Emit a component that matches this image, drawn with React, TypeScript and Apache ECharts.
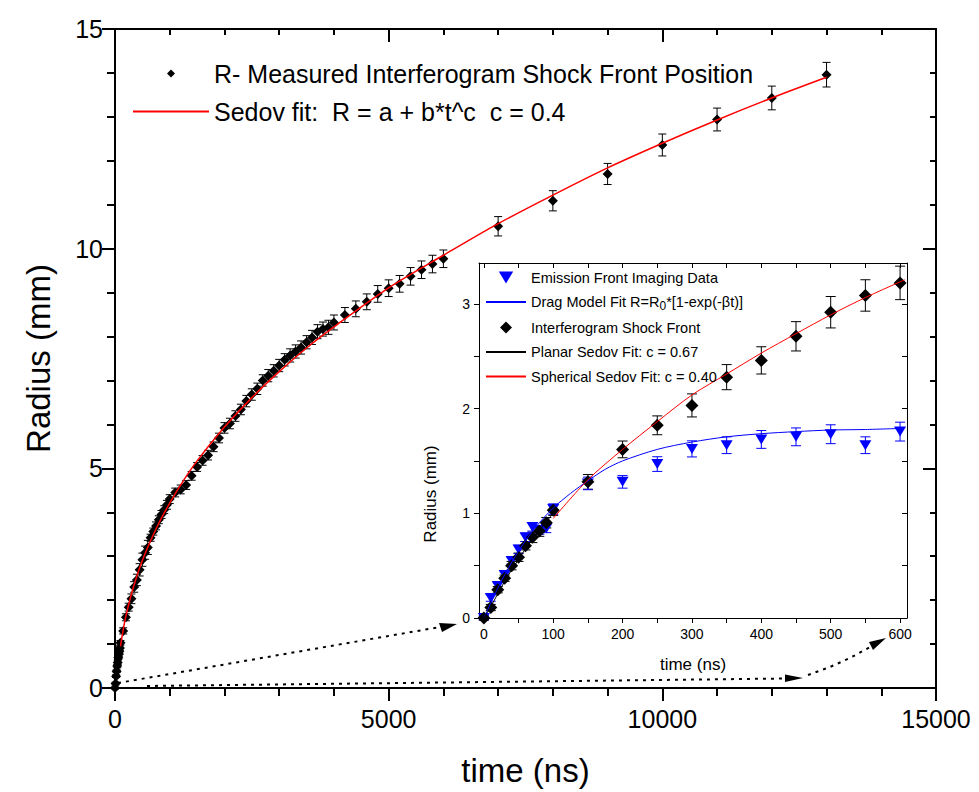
import React, { useEffect, useRef } from "react";
import * as echarts from "echarts";

const FONT = '"Liberation Sans", Arial, Helvetica, sans-serif';

// Interferogram shock front (ns, mm) with error
const shockT = [
  0, 10, 20, 30, 40, 50, 60, 70, 80, 90, 100,
  150, 200, 250, 300, 350, 400, 450, 500, 550, 600,
  650, 700, 750, 800, 850, 900, 950, 1000,
  1100, 1200, 1300, 1400, 1500, 1600, 1700, 1800, 1900, 2000,
  2100, 2200, 2300, 2400, 2500, 2600, 2700, 2800, 2900, 3000,
  3100, 3200, 3300, 3400, 3500, 3600, 3700, 3800, 3900, 4000,
  4200, 4400, 4600, 4800, 5000, 5200, 5400, 5600, 5800, 6000,
  7000, 8000, 9000, 10000, 11000, 12000, 13000,
];
const shockR = [
  0, 0.10, 0.27, 0.38, 0.50, 0.58, 0.69, 0.77, 0.83, 0.91, 1.03,
  1.30, 1.61, 1.84, 2.03, 2.30, 2.46, 2.69, 2.92, 3.08, 3.20,
  3.42, 3.56, 3.69, 3.83, 3.95, 4.06, 4.17, 4.30,
  4.45, 4.52, 4.62, 4.83, 5.03, 5.18, 5.30, 5.49, 5.69, 5.92,
  6.02, 6.19, 6.34, 6.53, 6.68, 6.81, 7.00, 7.11, 7.22, 7.34,
  7.47, 7.57, 7.66, 7.75, 7.87, 7.98, 8.11, 8.17, 8.21, 8.32,
  8.49, 8.63, 8.79, 8.97, 9.10, 9.20, 9.37, 9.52, 9.65, 9.77,
  10.51, 11.09, 11.70, 12.36, 12.94, 13.43, 13.96,
];
const shockErr = [
  0.02, 0.03, 0.03, 0.03, 0.04, 0.04, 0.04, 0.05, 0.05, 0.05, 0.05,
  0.07, 0.08, 0.09, 0.11, 0.12, 0.13, 0.14, 0.15, 0.15, 0.16,
  0.08, 0.08, 0.09, 0.09, 0.09, 0.09, 0.1, 0.1,
  0.1, 0.1, 0.1, 0.1, 0.1, 0.11, 0.11, 0.11, 0.11, 0.12,
  0.12, 0.12, 0.12, 0.13, 0.13, 0.13, 0.13, 0.14, 0.14, 0.14,
  0.14, 0.15, 0.15, 0.15, 0.15, 0.16, 0.16, 0.16, 0.16, 0.17,
  0.17, 0.18, 0.18, 0.19, 0.19, 0.19, 0.2, 0.2, 0.2, 0.2,
  0.22, 0.23, 0.24, 0.25, 0.26, 0.27, 0.28,
];
const INSET_COUNT = 21; // shock points with t <= 600 ns shown in inset

// Spherical Sedov fit (c = 0.4), main plot
const fitT = [100, 150, 200, 300, 400, 500, 600, 800, 1000, 1250, 1500, 2000, 2500, 3000, 3500, 4000, 5000, 6000, 7000, 8000, 9000, 10000, 11000, 12000, 13000];
const fitR = [0.95, 1.33, 1.64, 2.14, 2.55, 2.90, 3.21, 3.75, 4.21, 4.72, 5.17, 5.94, 6.61, 7.20, 7.74, 8.22, 9.11, 9.85, 10.57, 11.22, 11.84, 12.40, 12.93, 13.43, 13.90];

// Emission front imaging data (inset)
const emisT = [0, 10, 20, 30, 40, 50, 60, 70, 80, 90, 100, 150, 200, 250, 300, 350, 400, 450, 500, 550, 600];
const emisR = [0, 0.19, 0.305, 0.41, 0.545, 0.655, 0.77, 0.87, 0.84, 0.855, 1.04, 1.285, 1.30, 1.47, 1.615, 1.65, 1.705, 1.73, 1.755, 1.65, 1.78];
const emisErr = [0.02, 0.03, 0.03, 0.03, 0.03, 0.04, 0.04, 0.04, 0.04, 0.04, 0.05, 0.06, 0.06, 0.07, 0.077, 0.08, 0.085, 0.085, 0.09, 0.08, 0.09];

// Drag model fit (inset)
const dragT = [0, 25, 50, 75, 100, 125, 150, 175, 200, 250, 300, 350, 400, 450, 500, 550, 600];
const dragR = [0, 0.35, 0.64, 0.87, 1.05, 1.19, 1.31, 1.42, 1.50, 1.61, 1.68, 1.73, 1.76, 1.78, 1.795, 1.80, 1.81];

// Planar Sedov fit (inset)
const planarT = [0, 10, 20, 30, 40, 50, 60, 70, 80, 90, 100];
const planarR = [0, 0.11, 0.23, 0.35, 0.46, 0.56, 0.66, 0.75, 0.84, 0.92, 1.0];

// Spherical Sedov fit (inset)
const sphT = [100, 150, 200, 250, 300, 350, 400, 450, 500, 550, 600, 607];
const sphR = [0.95, 1.32, 1.61, 1.875, 2.13, 2.33, 2.53, 2.715, 2.895, 3.06, 3.21, 3.23];

// Tick values
const insetXLabels = [0, 100, 200, 300, 400, 500, 600];
const insetXTicks = [0, 50, 100, 150, 200, 250, 300, 350, 400, 450, 500, 550, 600];
const insetYLabels = [0, 1, 2, 3];
const insetYTicks = [0, 0.5, 1, 1.5, 2, 2.5, 3];

const NAME_MAIN_PTS = "R- Measured Interferogram Shock Front Position";
const NAME_MAIN_FIT = "Sedov fit:  R = a + b*t^c  c = 0.4";
const NAME_EMIS = "Emission Front Imaging Data";
const NAME_DRAG = "Drag Model Fit R=R0*[1-exp(-\u03b2t)]";
const NAME_SHOCK = "Interferogram Shock Front";
const NAME_PLANAR = "Planar Sedov Fit: c = 0.67";
const NAME_SPH = "Spherical Sedov Fit: c = 0.40";

function zip(xs: number[], ys: number[]) {
  return xs.map((x, i) => [x, ys[i]]);
}
function errData(xs: number[], ys: number[], es: number[]) {
  return xs.map((x, i) => [x, ys[i] - es[i], ys[i] + es[i]]);
}
function errSeries(xi: number, yi: number, data: number[][], color: string, cap: number, z: number) {
  return {
    type: "custom",
    xAxisIndex: xi,
    yAxisIndex: yi,
    z,
    silent: true,
    data,
    renderItem: (params: any, api: any) => {
      const x = api.value(0);
      const lo = api.coord([x, api.value(1)]);
      const hi = api.coord([x, api.value(2)]);
      const st = { stroke: color, lineWidth: 1 };
      return {
        type: "group",
        children: [
          { type: "line", shape: { x1: lo[0], y1: lo[1], x2: hi[0], y2: hi[1] }, style: st },
          { type: "line", shape: { x1: lo[0] - cap, y1: lo[1], x2: lo[0] + cap, y2: lo[1] }, style: st },
          { type: "line", shape: { x1: hi[0] - cap, y1: hi[1], x2: hi[0] + cap, y2: hi[1] }, style: st },
        ],
      };
    },
  };
}

const DOWN_TRI = "path://M0,0L12,0L6,10Z";
const DIAMOND = "path://M5,0L10,5L5,10L0,5Z";
const noSym = { color: "rgba(0,0,0,0)", opacity: 0, borderWidth: 0 };
const plain = (v: number) => String(v);

export default function App() {
  const ref = useRef<HTMLDivElement>(null);
  useEffect(() => {
    if (!ref.current) return;
    const chart = echarts.init(ref.current, null, { renderer: "svg" });

    const black = "#000";
    const mainLine = { show: true, onZero: false, lineStyle: { color: black, width: 2 } };
    const insetLine = { show: true, onZero: false, lineStyle: { color: black, width: 1 } };

    const option: any = {
      animation: false,
      backgroundColor: "#fff",
      textStyle: { fontFamily: FONT },
      grid: [
        { left: 115, right: 43, top: 29, bottom: 103, show: false },
        { left: 479, right: 72, top: 263, bottom: 174, show: true, backgroundColor: "#fff", borderWidth: 0, z: 5 },
      ],
      xAxis: [
        {
          type: "value", gridIndex: 0, position: "bottom", min: 0, max: 15000, interval: 5000,
          axisLine: mainLine,
          axisTick: { show: true, length: 13, lineStyle: { width: 2, color: black } },
          minorTick: { show: true, splitNumber: 5, length: 8, lineStyle: { width: 2, color: black } },
          splitLine: { show: false }, minorSplitLine: { show: false },
          axisLabel: { fontSize: 25, color: black, margin: 18, fontFamily: FONT, formatter: plain },
          name: "time (ns)", nameLocation: "middle", nameGap: 66,
          nameTextStyle: { fontSize: 33, color: black, fontFamily: FONT },
        },
        {
          type: "value", gridIndex: 0, position: "top", min: 0, max: 15000, interval: 5000,
          axisLine: mainLine,
          axisTick: { show: true, inside: true, length: 13, lineStyle: { width: 2, color: black } },
          minorTick: { show: true, splitNumber: 5, length: 6, lineStyle: { width: 2, color: black } },
          splitLine: { show: false }, minorSplitLine: { show: false },
          axisLabel: { show: false },
        },
        {
          type: "value", gridIndex: 1, position: "bottom", min: -7, max: 610,
          axisLine: insetLine,
          axisTick: { show: true, length: 5, customValues: insetXTicks, lineStyle: { width: 1, color: black } },
          splitLine: { show: false },
          axisLabel: { fontSize: 14, color: black, margin: 9, fontFamily: FONT, customValues: insetXLabels, formatter: plain },
          name: "time (ns)", nameLocation: "middle", nameGap: 38,
          nameTextStyle: { fontSize: 17, color: black, fontFamily: FONT },
          z: 6,
        },
        {
          type: "value", gridIndex: 1, position: "top", min: -7, max: 610,
          axisLine: insetLine,
          axisTick: { show: true, inside: true, length: 5, customValues: insetXTicks, lineStyle: { width: 1, color: black } },
          splitLine: { show: false },
          axisLabel: { show: false },
          z: 6,
        },
      ],
      yAxis: [
        {
          type: "value", gridIndex: 0, position: "left", min: 0, max: 15, interval: 5,
          axisLine: mainLine,
          axisTick: { show: true, length: 13, lineStyle: { width: 2, color: black } },
          minorTick: { show: true, splitNumber: 5, length: 8, lineStyle: { width: 2, color: black } },
          splitLine: { show: false }, minorSplitLine: { show: false },
          axisLabel: { fontSize: 25, color: black, margin: 12, fontFamily: FONT, formatter: plain },
          name: "Radius (mm)", nameLocation: "middle", nameGap: 60,
          nameTextStyle: { fontSize: 33, color: black, fontFamily: FONT },
        },
        {
          type: "value", gridIndex: 0, position: "right", min: 0, max: 15, interval: 5,
          axisLine: mainLine,
          axisTick: { show: true, inside: true, length: 13, lineStyle: { width: 2, color: black } },
          minorTick: { show: true, splitNumber: 5, length: 6, lineStyle: { width: 2, color: black } },
          splitLine: { show: false }, minorSplitLine: { show: false },
          axisLabel: { show: false },
        },
        {
          type: "value", gridIndex: 1, position: "left", min: 0, max: 3.39,
          axisLine: insetLine,
          axisTick: { show: true, length: 5, customValues: insetYTicks, lineStyle: { width: 1, color: black } },
          splitLine: { show: false },
          axisLabel: { fontSize: 14, color: black, margin: 9, fontFamily: FONT, customValues: insetYLabels, formatter: plain },
          z: 6,
        },
        {
          type: "value", gridIndex: 1, position: "right", min: 0, max: 3.39,
          axisLine: insetLine,
          axisTick: { show: true, inside: true, length: 5, customValues: insetYTicks, lineStyle: { width: 1, color: black } },
          splitLine: { show: false },
          axisLabel: { show: false },
          z: 6,
        },
      ],
      legend: [
        {
          orient: "vertical", left: 127, top: 56, itemWidth: 76, itemHeight: 8, itemGap: 13,
          symbolKeepAspect: true,
          data: [
            { name: NAME_MAIN_PTS },
            { name: NAME_MAIN_FIT, itemStyle: noSym },
          ],
          textStyle: { fontSize: 25, color: black, fontFamily: FONT, lineHeight: 25 },
          selectedMode: false,
        },
        {
          orient: "vertical", left: 480, top: 264, itemWidth: 40, itemHeight: 12, itemGap: 7.5,
          symbolKeepAspect: true,
          data: [
            { name: NAME_EMIS },
            { name: NAME_DRAG, itemStyle: noSym },
            { name: NAME_SHOCK },
            { name: NAME_PLANAR, itemStyle: noSym },
            { name: NAME_SPH, itemStyle: noSym },
          ],
          textStyle: {
            fontSize: 14.5, color: black, fontFamily: FONT, lineHeight: 17,
            rich: { sub: { fontSize: 12, padding: [7, 0, 0, 0], fontFamily: FONT, color: black } },
          },
          formatter: (name: string) =>
            name === NAME_DRAG ? "Drag Model Fit R=R{sub|0}*[1-exp(-\u03b2t)]" : name,
          selectedMode: false,
          z: 10,
        },
      ],
      series: [
        errSeries(0, 0, errData(shockT, shockR, shockErr), black, 4, 2),
        {
          name: NAME_MAIN_PTS, type: "scatter", xAxisIndex: 0, yAxisIndex: 0, z: 3,
          symbol: DIAMOND, symbolSize: 10, itemStyle: { color: black, opacity: 1 },
          data: zip(shockT, shockR),
        },
        {
          name: NAME_MAIN_FIT, type: "line", xAxisIndex: 0, yAxisIndex: 0, z: 4,
          symbol: "none", smooth: 0.3, lineStyle: { color: "#ff0000", width: 1.5 }, itemStyle: { color: "#ff0000" },
          data: zip(fitT, fitR),
        },
        errSeries(2, 2, errData(shockT.slice(0, INSET_COUNT), shockR.slice(0, INSET_COUNT), shockErr.slice(0, INSET_COUNT)), black, 5, 7),
        errSeries(2, 2, errData(emisT, emisR, emisErr), "#0000ff", 5, 7),
        {
          name: NAME_EMIS, type: "scatter", xAxisIndex: 2, yAxisIndex: 2, z: 8,
          symbol: DOWN_TRI, symbolSize: [12, 10], itemStyle: { color: "#0000ff", opacity: 1 },
          data: zip(emisT, emisR),
        },
        {
          name: NAME_DRAG, type: "line", xAxisIndex: 2, yAxisIndex: 2, z: 9,
          symbol: "none", smooth: 0.3, lineStyle: { color: "#0000ff", width: 1 }, itemStyle: { color: "#0000ff" },
          data: zip(dragT, dragR),
        },
        {
          name: NAME_SHOCK, type: "scatter", xAxisIndex: 2, yAxisIndex: 2, z: 8,
          symbol: DIAMOND, symbolSize: 13, itemStyle: { color: black, opacity: 1 },
          data: zip(shockT.slice(0, INSET_COUNT), shockR.slice(0, INSET_COUNT)),
        },
        {
          name: NAME_PLANAR, type: "line", xAxisIndex: 2, yAxisIndex: 2, z: 9,
          symbol: "none", smooth: 0.3, lineStyle: { color: black, width: 1 }, itemStyle: { color: black },
          data: zip(planarT, planarR),
        },
        {
          name: NAME_SPH, type: "line", xAxisIndex: 2, yAxisIndex: 2, z: 9,
          symbol: "none", smooth: 0.3, lineStyle: { color: "#ff0000", width: 1 }, itemStyle: { color: "#ff0000" },
          data: zip(sphT, sphR),
        },
      ],
      graphic: [
        {
          type: "text", x: 430, y: 494, rotation: Math.PI / 2, z: 20,
          style: { text: "Radius (mm)", fontSize: 17, fontFamily: FONT, fill: black, textAlign: "center", textVerticalAlign: "middle" },
        },
        { type: "line", z: 20, shape: { x1: 118, y1: 683, x2: 440, y2: 627 }, style: { stroke: black, lineWidth: 2, lineDash: [3, 5] } },
        { type: "polygon", z: 20, shape: { points: [[457, 624], [439, 623], [442, 632]] }, style: { fill: black } },
        { type: "line", z: 20, shape: { x1: 147, y1: 686, x2: 785, y2: 678.5 }, style: { stroke: black, lineWidth: 2, lineDash: [3, 5] } },
        { type: "polygon", z: 20, shape: { points: [[803, 678], [785, 674.5], [785, 682]] }, style: { fill: black } },
        { type: "polyline", z: 20, shape: { points: [[808, 675], [830, 667], [850, 658], [870, 647]] }, style: { stroke: black, lineWidth: 2, lineDash: [3, 5], fill: "none" } },
        { type: "polygon", z: 20, shape: { points: [[886, 638], [869, 642], [873, 650]] }, style: { fill: black } },
      ],
    };
    chart.setOption(option);
    return () => chart.dispose();
  }, []);
  return <div ref={ref} style={{ position: "fixed", left: 0, top: 0, width: 979, height: 792, background: "#fff" }} />;
}
